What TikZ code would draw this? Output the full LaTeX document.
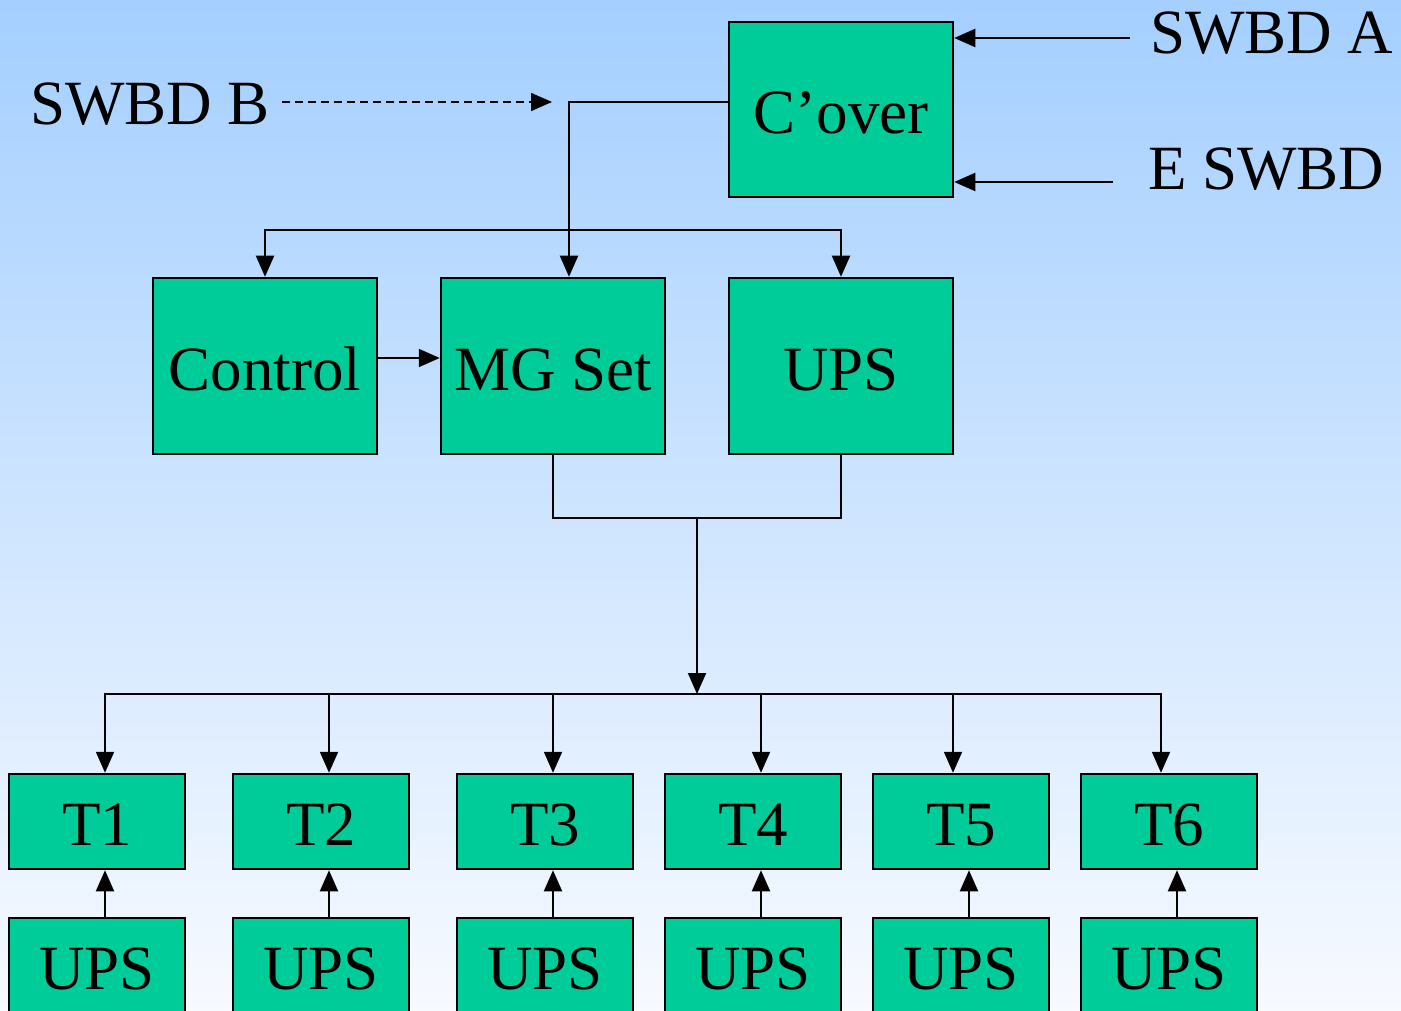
\documentclass[tikz,border=0pt]{standalone}
\usepackage{fontspec}
\setmainfont{Liberation Serif}
\usetikzlibrary{arrows.meta}
\definecolor{bgtop}{RGB}{164,207,255}
\definecolor{bgbot}{RGB}{247,250,255}
\definecolor{boxfill}{RGB}{0,204,153}
\begin{document}
\begin{tikzpicture}[x=1pt,y=-1pt,
  box/.style={draw=black,line width=2.5pt,fill=boxfill,inner sep=0pt,
    text height=48pt,text depth=0pt,font=\fontsize{63}{70}\selectfont},
  big/.style={box,minimum width=224pt,minimum height=176pt},
  tbox/.style={box,minimum width=176pt,minimum height=95pt},
  lbl/.style={inner sep=0pt,anchor=base west,font=\fontsize{63}{70}\selectfont},
  con/.style={line width=2pt},
  arr/.style={con,-{Triangle[length=21pt,width=18pt]}}]
\useasboundingbox (0,0) rectangle (1401,1011);
\clip (0,0) rectangle (1401,1011);
\shade[top color=bgtop,bottom color=bgbot] (0,0) rectangle (1401,1011);

% top nodes
\node[big,minimum height=175pt] (cover) at (841,109.5) {C’over};
\node[big] (control) at (265,366) {Control};
\node[big] (mg) at (553,366) {MG Set};
\node[big] (ups) at (841,366) {UPS};

\node[lbl] (swbdA) at (1150,54) {SWBD A};
\node[lbl] (eswbd) at (1148,190) {E SWBD};
\node[lbl] (swbdB) at (30,125) {SWBD B};

% T and UPS rows
\foreach \i/\x in {1/97,2/321,3/545,4/753,5/961,6/1169}{
  \node[tbox] (t\i) at (\x,821.5) {T\i};
  \node[tbox] (u\i) at (\x,965.5) {UPS};
}

% inputs to C'over
\coordinate (aA) at (1130,38);
\coordinate (aE) at (1113,182);
\draw[arr] (aA) -- (aA -| cover.east);
\draw[arr] (aE) -- (aE -| cover.east);

% SWBD B dashed
\coordinate (bS) at (282,102);
\coordinate (bE) at (552,102);
\draw[arr,line width=1.6pt,dash pattern=on 8pt off 5pt] (bS) -- (bE);

% C'over to MG Set, Control, UPS
\coordinate (cb) at (569,102);
\coordinate (br) at (569,230);
\draw[arr] (cover.west |- cb) -- (cb) -- (cb |- mg.north);
\draw[arr] (br) -| (control.north);
\draw[arr] (br) -| (ups.north);

% Control to MG Set
\draw[arr] ([yshift=8pt]control.east) -- ([yshift=8pt]mg.west);

% MG Set and UPS combine
\draw[con] (mg.south) -- ++(0,63) -| (ups.south);
\coordinate (j1) at (697,517);
\coordinate (bus) at (697,694);
\draw[arr] (j1) -- (bus);

% bus to T boxes
\foreach \i/\s in {1/8,2/8,3/8,4/8,5/-8,6/-8}{
  \draw[arr] (bus) -| ([xshift=\s pt]t\i.north);
}
% UPS to T boxes
\foreach \i in {1,...,6}{
  \draw[arr] ([xshift=8pt]u\i.north) -- ([xshift=8pt]t\i.south);
}
\end{tikzpicture}
\end{document}
